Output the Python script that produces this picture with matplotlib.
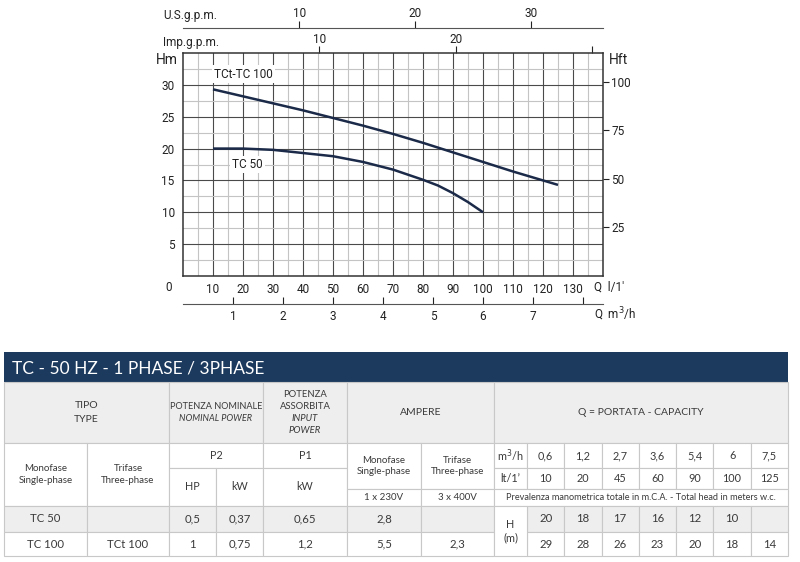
import matplotlib.pyplot as plt
from matplotlib.patches import Rectangle

# pump curves: Q in l/min, H in m
q_tc100 = [10, 20, 30, 40, 50, 60, 70, 80, 90, 100, 110, 120, 125]
h_tc100 = [29.3, 28.2, 27.1, 26.0, 24.8, 23.6, 22.3, 20.9, 19.4, 17.9, 16.4, 15.0, 14.3]
q_tc50 = [10, 20, 30, 40, 50, 60, 70, 80, 85, 90, 95, 100]
h_tc50 = [20.0, 20.0, 19.8, 19.3, 18.8, 17.9, 16.7, 15.1, 14.2, 13.0, 11.6, 10.0]

q_ticks = [10, 20, 30, 40, 50, 60, 70, 80, 90, 100, 110, 120, 130]
h_ticks = [5, 10, 15, 20, 25, 30]
ft_ticks = [25, 50, 75, 100]
usgpm_ticks = [10, 20, 30]
impgpm_ticks = [10, 20, 30]
impgpm_labels = ['10', '20', '']
m3h_ticks = [1, 2, 3, 4, 5, 6, 7, 8]
m3h_labels = ['1', '2', '3', '4', '5', '6', '7', '']

# table data
title = 'TC - 50 HZ - 1 PHASE / 3PHASE'
tipo_mono = ['TC 50', 'TC 100']
tipo_tri = ['', 'TCt 100']
p2_hp = ['0,5', '1']
p2_kw = ['0,37', '0,75']
p1_kw = ['0,65', '1,2']
amp_mono = ['2,8', '5,5']
amp_tri = ['', '2,3']
q_m3h = ['0,6', '1,2', '2,7', '3,6', '5,4', '6', '7,5']
q_lmin = ['10', '20', '45', '60', '90', '100', '125']
head_rows = [['20', '18', '17', '16', '12', '10', ''],
             ['29', '28', '26', '23', '20', '18', '14']]

chart_font = ['Roboto', 'DejaVu Sans']
table_font = ['Lato', 'DejaVu Sans']
ink = '#222222'
curve_col = '#1b2a48'

fig = plt.figure(figsize=(8, 5.62), dpi=100)

# ---------------- table (pixel coordinates) ----------------
tax = fig.add_axes([0, 0, 1, 1])
tax.set_xlim(0, 800)
tax.set_ylim(562, 0)
tax.axis('off')
tax.patch.set_alpha(0)

line_col = '#c8c8c8'
tcol = '#3a3a3a'


def cell(x0, x1, y0, y1, lines=(), bg='white', size=7.2, lh=12.3, style='normal'):
    tax.add_patch(Rectangle((x0, y0), x1 - x0, y1 - y0, facecolor=bg,
                            edgecolor=line_col, lw=0.8))
    if isinstance(lines, str):
        lines = [lines]
    n = len(lines)
    yc = (y0 + y1) / 2
    for i, ln in enumerate(lines):
        st = style
        if isinstance(ln, tuple):
            ln, st = ln
        y = yc + (i - (n - 1) / 2) * lh
        tax.text((x0 + x1) / 2, y, ln, ha='center', va='center', fontsize=size,
                 color=tcol, family=table_font, style=st)


tax.add_patch(Rectangle((4, 352), 784, 30, facecolor='#1c3a5e', edgecolor='none'))
tax.text(12, 368, title, color='white', fontsize=12.5, family=table_font,
         va='center', ha='left')

gray = '#eeeeee'
cell(4, 169, 382, 443, ['TIPO', 'TYPE'], bg=gray, size=7.5, lh=15)
cell(169, 263, 382, 443, ['POTENZA NOMINALE', ('NOMINAL POWER', 'italic')], bg=gray, size=6.6)
cell(263, 347, 382, 443, ['POTENZA', 'ASSORBITA', ('INPUT', 'italic'), ('POWER', 'italic')],
     bg=gray, size=6.8)
cell(347, 494, 382, 443, 'AMPERE', bg=gray, size=7.5)
cell(494, 788, 382, 443, 'Q = PORTATA - CAPACITY', bg=gray, size=7.5)

cell(4, 87, 443, 506, ['Monofase', 'Single-phase'], size=7)
cell(87, 169, 443, 506, ['Trifase', 'Three-phase'], size=7)
cell(169, 263, 443, 468, 'P2', size=7.8)
cell(263, 347, 443, 468, 'P1', size=7.8)
cell(169, 216, 468, 506, 'HP', size=7.8)
cell(216, 263, 468, 506, 'kW', size=7.8)
cell(263, 347, 468, 506, 'kW', size=7.8)
cell(347, 421, 443, 489, ['Monofase', 'Single-phase'], size=7, lh=10.5)
cell(421, 494, 443, 489, ['Trifase', 'Three-phase'], size=7, lh=10.5)
cell(347, 421, 489, 506, '1 x 230V', size=7)
cell(421, 494, 489, 506, '3 x 400V', size=7)

cell(494, 527, 443, 468, 'm$^3$/h', size=7.8)
cell(494, 527, 468, 489, 'lt/1\u2019', size=7.8)
col_w = (788 - 527) / len(q_m3h)
for i in range(len(q_m3h)):
    x0 = 527 + i * col_w
    cell(x0, x0 + col_w, 443, 468, q_m3h[i], size=7.8)
    cell(x0, x0 + col_w, 468, 489, q_lmin[i], size=7.8)
cell(494, 788, 489, 506, 'Prevalenza manometrica totale in m.C.A. - Total head in meters w.c.', size=6.6)

row_y = [(506, 532), (532, 556)]
for r, (y0, y1) in enumerate(row_y):
    bg = gray if r == 0 else 'white'
    cell(4, 87, y0, y1, tipo_mono[r], bg=bg, size=8.2)
    cell(87, 169, y0, y1, tipo_tri[r], bg=bg, size=8.2)
    cell(169, 216, y0, y1, p2_hp[r], bg=bg, size=8.2)
    cell(216, 263, y0, y1, p2_kw[r], bg=bg, size=8.2)
    cell(263, 347, y0, y1, p1_kw[r], bg=bg, size=8.2)
    cell(347, 421, y0, y1, amp_mono[r], bg=bg, size=8.2)
    cell(421, 494, y0, y1, amp_tri[r], bg=bg, size=8.2)
    for i in range(len(head_rows[r])):
        x0 = 527 + i * col_w
        cell(x0, x0 + col_w, y0, y1, head_rows[r][i], bg=bg, size=8.2)
cell(494, 527, 506, 556, ['H', '(m)'], size=7.8, lh=14)

# ---------------- chart ----------------
ax = fig.add_axes([183 / 800, 1 - 276 / 562, 420 / 800, 223 / 562])
ax.set_xlim(0, 140)
ax.set_ylim(0, 35)

ax.set_xticks(q_ticks)
ax.set_xticks(range(5, 140, 10), minor=True)
ax.set_yticks(h_ticks)
ax.set_yticks([2.5, 7.5, 12.5, 17.5, 22.5, 27.5, 32.5], minor=True)
ax.grid(which='major', color='#4a4a4a', lw=0.8)
ax.grid(which='minor', color='#c4c4c4', lw=0.8)
ax.set_axisbelow(True)
ax.tick_params(which='both', length=0, labelsize=8.5, colors=ink)
ax.tick_params(axis='x', pad=5)
ax.tick_params(axis='y', pad=6)
for lab in ax.get_xticklabels() + ax.get_yticklabels():
    lab.set_family(chart_font)
for s in ax.spines.values():
    s.set_color('#333333')
    s.set_linewidth(1.1)

ax.plot(q_tc100, h_tc100, color=curve_col, lw=1.8, solid_capstyle='butt')
ax.plot(q_tc50, h_tc50, color=curve_col, lw=1.8, solid_capstyle='butt')

box = dict(facecolor='white', edgecolor='none', pad=1.5)
ax.text(10.3, 31.7, 'TCt-TC 100', fontsize=8.5, color=ink, family=chart_font,
        va='center', ha='left', bbox=box)
ax.text(16.3, 17.5, 'TC 50', fontsize=8.5, color=ink, family=chart_font,
        va='center', ha='left', bbox=box)

# right axis in feet
hft = ax.secondary_yaxis('right', functions=(lambda m: m / 0.3048, lambda f: f * 0.3048))
hft.set_yticks(ft_ticks)
hft.tick_params(length=4, width=0.8, labelsize=8.5, colors=ink, pad=2)
hft.spines['right'].set_visible(False)

# Imperial gallons per minute on the top spine
imp = ax.secondary_xaxis('top', functions=(lambda q: q / 4.546, lambda g: g * 4.546))
imp.set_xticks(impgpm_ticks, impgpm_labels)
imp.tick_params(direction='out', length=5, width=0.8, labelsize=8.5, colors=ink, pad=0)
imp.spines['top'].set_visible(False)

# US gallons per minute on a separate line above
usg = ax.secondary_xaxis(1.112, functions=(lambda q: q / 3.87, lambda g: g * 3.87))
usg.set_xticks(usgpm_ticks)
usg.tick_params(direction='out', length=5, width=0.8, labelsize=8.5, colors=ink, pad=1)
usg.spines['top'].set_color('#555555')
usg.spines['bottom'].set_visible(False)

# m3/h below
m3 = ax.secondary_xaxis(-0.1256, functions=(lambda q: q / 16.667, lambda v: v * 16.667))
m3.set_xticks(m3h_ticks, m3h_labels)
m3.tick_params(direction='in', length=5, width=0.8, labelsize=8.5, colors=ink, pad=4)
m3.spines['bottom'].set_color('#555555')
m3.spines['top'].set_visible(False)

for sec in (hft, imp, usg, m3):
    for lab in sec.get_xticklabels() + sec.get_yticklabels():
        lab.set_family(chart_font)

tkw = dict(transform=ax.transAxes, color=ink, family=chart_font, va='center')
ax.text(-0.012, 0.969, 'Hm', ha='right', fontsize=10, **tkw)
ax.text(1.014, 0.969, 'Hft', ha='left', fontsize=10, **tkw)
ax.text(-0.026, -0.05, '0', ha='right', fontsize=8.5, **tkw)
ax.text(0.979, -0.05, "Q  l/1'", ha='left', fontsize=8.5, **tkw)
ax.text(0.979, -0.17, 'Q  m$^3$/h', ha='left', fontsize=8.5, **tkw)
ax.text(-0.048, 1.166, 'U.S.g.p.m.', ha='left', fontsize=8.5, **tkw)
ax.text(-0.048, 1.049, 'Imp.g.p.m.', ha='left', fontsize=8.5, **tkw)

fig.savefig('out.png', dpi=100)
